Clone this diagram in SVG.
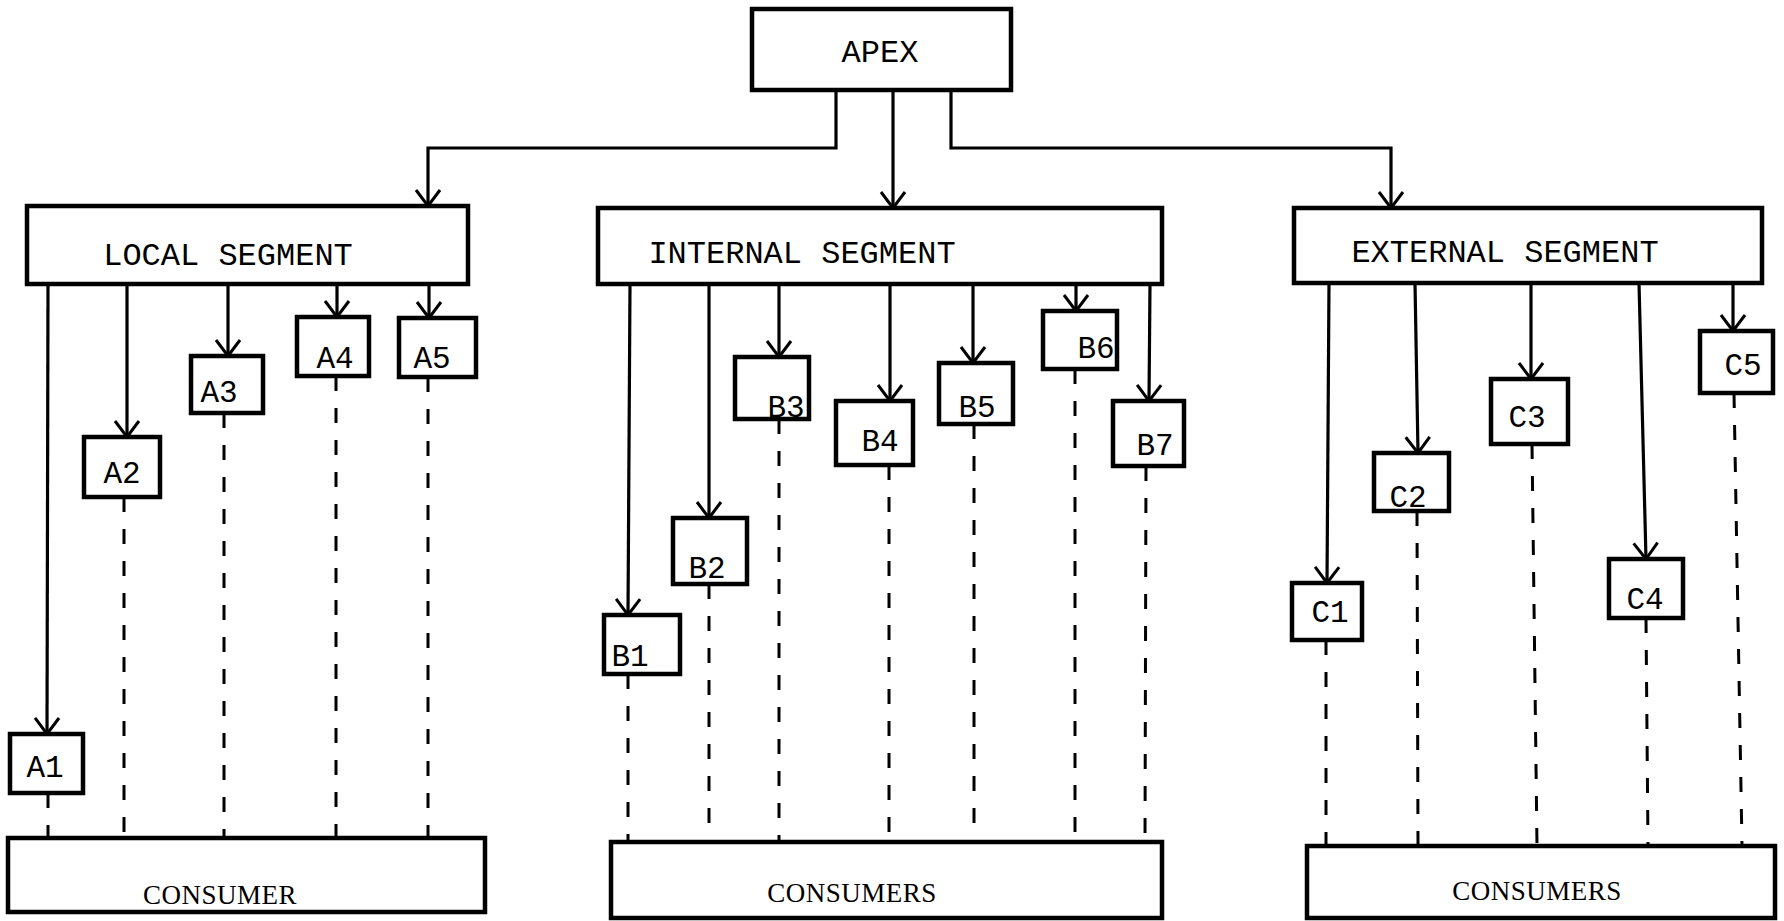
<svg xmlns="http://www.w3.org/2000/svg" width="1784" height="921" viewBox="0 0 1784 921">
<style>
  .box { fill: #fff; stroke: #000; stroke-width: 4.5; }
  .solid { fill: none; stroke: #000; stroke-width: 3.2; marker-end: url(#arr); }
  .dash { fill: none; stroke: #000; stroke-width: 3; stroke-dasharray: 15 17; }
  .mono { font-family: "Liberation Mono", "Courier New", monospace; font-size: 31px; fill: #000; text-anchor: middle; }
  .seg { font-size: 32px; }
  .serif { font-family: "Liberation Serif", "Times New Roman", serif; font-size: 27px; fill: #000; text-anchor: middle; letter-spacing: 0.5px; }
</style>
<defs>
  <marker id="arr" viewBox="-19 -15 21 30" refX="0" refY="0" markerWidth="21" markerHeight="30" orient="auto" markerUnits="userSpaceOnUse">
    <path d="M-16,-12 L0,0 L-16,12" fill="none" stroke="#000" stroke-width="3"/>
  </marker>
</defs>
<rect width="1784" height="921" fill="#fff"/>

<g id="connectors">
  <!-- apex to segments -->
  <path class="solid" d="M836,90 V148 H428 V206"/>
  <path class="solid" d="M893,90 V208"/>
  <path class="solid" d="M951,90 V148 H1391 V208"/>
  <!-- local segment -->
  <path class="solid" d="M48,284 L47,734"/>
  <path class="solid" d="M127,284 V437"/>
  <path class="solid" d="M228,284 V356"/>
  <path class="solid" d="M337,284 V317"/>
  <path class="solid" d="M429,284 V318"/>
  <!-- internal segment -->
  <path class="solid" d="M630,284 L628,615"/>
  <path class="solid" d="M709,284 V518"/>
  <path class="solid" d="M779,284 V357"/>
  <path class="solid" d="M890,284 V401"/>
  <path class="solid" d="M973,284 V363"/>
  <path class="solid" d="M1076,284 V311"/>
  <path class="solid" d="M1150,284 L1149,401"/>
  <!-- external segment -->
  <path class="solid" d="M1329,283 L1327,583"/>
  <path class="solid" d="M1415,283 L1418,453"/>
  <path class="solid" d="M1531,283 V379"/>
  <path class="solid" d="M1639,283 L1646,559"/>
  <path class="solid" d="M1733,283 V331"/>
  <!-- dashed to consumers -->
  <path class="dash" d="M48,793 V838"/>
  <path class="dash" d="M124,497 V838"/>
  <path class="dash" d="M224,413 V838"/>
  <path class="dash" d="M336,376 V838"/>
  <path class="dash" d="M428,377 V838"/>
  <path class="dash" d="M628,674 V842"/>
  <path class="dash" d="M709,584 V842"/>
  <path class="dash" d="M779,419 V842"/>
  <path class="dash" d="M889,465 V842"/>
  <path class="dash" d="M974,424 V842"/>
  <path class="dash" d="M1075,369 V842"/>
  <path class="dash" d="M1146,466 L1145,842"/>
  <path class="dash" d="M1326,640 V846"/>
  <path class="dash" d="M1417,511 L1418,846"/>
  <path class="dash" d="M1532,444 L1537,846"/>
  <path class="dash" d="M1646,618 L1648,846"/>
  <path class="dash" d="M1734,393 L1742,846"/>
</g>

<g id="apex"><rect class="box" x="752" y="9" width="259" height="81"/><text class="mono seg" x="880" y="62">APEX</text></g>

<g id="local-segment"><rect class="box" x="27" y="206" width="441" height="78"/><text class="mono seg" x="228" y="265">LOCAL SEGMENT</text></g>
<g id="internal-segment"><rect class="box" x="598" y="208" width="564" height="76"/><text class="mono seg" x="802" y="263">INTERNAL SEGMENT</text></g>
<g id="external-segment"><rect class="box" x="1294" y="208" width="468" height="75"/><text class="mono seg" x="1505" y="262">EXTERNAL SEGMENT</text></g>

<g id="A1"><rect class="box" x="10" y="734" width="73" height="59"/><text class="mono" x="45" y="777">A1</text></g>
<g id="A2"><rect class="box" x="84" y="437" width="76" height="60"/><text class="mono" x="122" y="483">A2</text></g>
<g id="A3"><rect class="box" x="191" y="356" width="72" height="57"/><text class="mono" x="219" y="402">A3</text></g>
<g id="A4"><rect class="box" x="297" y="317" width="72" height="59"/><text class="mono" x="335" y="368">A4</text></g>
<g id="A5"><rect class="box" x="399" y="318" width="77" height="59"/><text class="mono" x="432" y="368">A5</text></g>

<g id="B1"><rect class="box" x="604" y="615" width="76" height="59"/><text class="mono" x="630" y="666">B1</text></g>
<g id="B2"><rect class="box" x="673" y="518" width="74" height="66"/><text class="mono" x="707" y="578">B2</text></g>
<g id="B3"><rect class="box" x="735" y="357" width="74" height="62"/><text class="mono" x="786" y="417">B3</text></g>
<g id="B4"><rect class="box" x="836" y="401" width="77" height="64"/><text class="mono" x="880" y="451">B4</text></g>
<g id="B5"><rect class="box" x="939" y="363" width="74" height="61"/><text class="mono" x="977" y="417">B5</text></g>
<g id="B6"><rect class="box" x="1043" y="311" width="74" height="58"/><text class="mono" x="1096" y="358">B6</text></g>
<g id="B7"><rect class="box" x="1113" y="401" width="71" height="65"/><text class="mono" x="1155" y="455">B7</text></g>

<g id="C1"><rect class="box" x="1292" y="583" width="70" height="57"/><text class="mono" x="1330" y="622">C1</text></g>
<g id="C2"><rect class="box" x="1374" y="453" width="75" height="58"/><text class="mono" x="1408" y="507">C2</text></g>
<g id="C3"><rect class="box" x="1491" y="379" width="77" height="65"/><text class="mono" x="1527" y="427">C3</text></g>
<g id="C4"><rect class="box" x="1609" y="559" width="74" height="59"/><text class="mono" x="1645" y="609">C4</text></g>
<g id="C5"><rect class="box" x="1700" y="331" width="73" height="62"/><text class="mono" x="1743" y="375">C5</text></g>

<g id="consumer-local"><rect class="box" x="8" y="838" width="477" height="74"/><text class="serif" x="220" y="904">CONSUMER</text></g>
<g id="consumers-internal"><rect class="box" x="611" y="842" width="551" height="76"/><text class="serif" x="852" y="902">CONSUMERS</text></g>
<g id="consumers-external"><rect class="box" x="1307" y="846" width="468" height="72"/><text class="serif" x="1537" y="900">CONSUMERS</text></g>
</svg>
